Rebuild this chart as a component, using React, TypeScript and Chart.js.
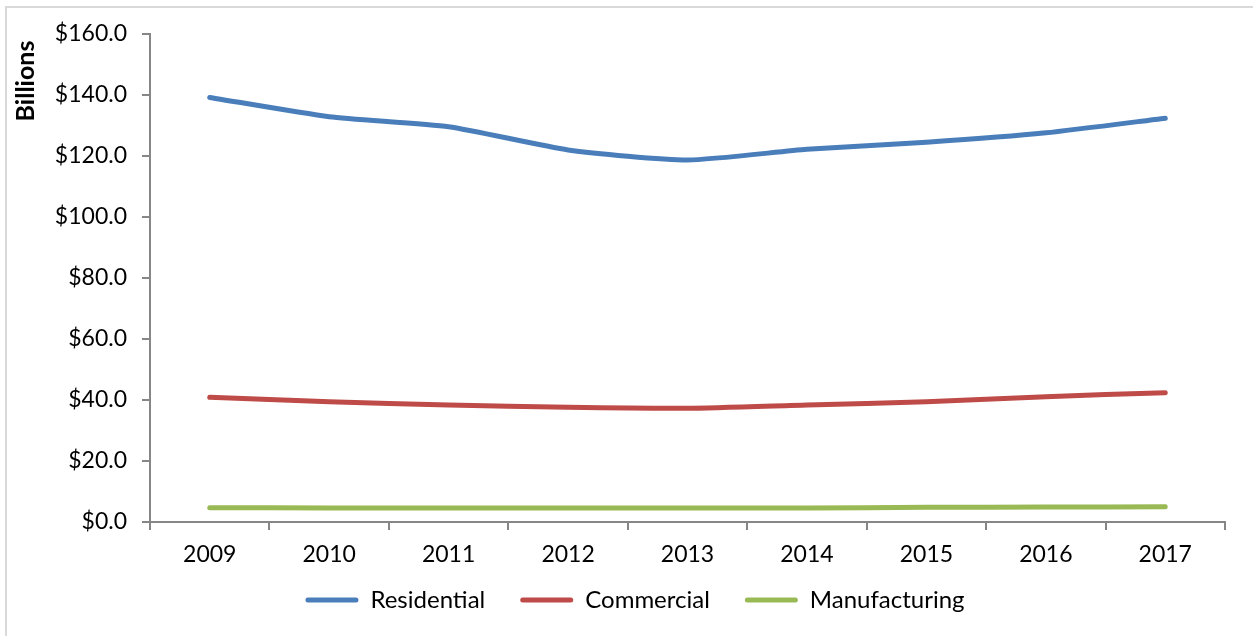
import React, { useEffect, useRef } from "react";
import { Chart, registerables } from "chart.js";

Chart.register(...registerables);

const years = ["2009", "2010", "2011", "2012", "2013", "2014", "2015", "2016", "2017"];
const residential = [139.2, 132.9, 129.6, 122.0, 118.7, 122.2, 124.5, 127.6, 132.4];
const commercial = [40.9, 39.4, 38.4, 37.6, 37.3, 38.4, 39.4, 41.1, 42.4];
const manufacturing = [4.7, 4.6, 4.6, 4.6, 4.6, 4.6, 4.8, 4.9, 5.0];
const seriesNames = ["Residential", "Commercial", "Manufacturing"];
const seriesColors = ["#4A7EBB", "#BE4B48", "#98B954"];
const yMin = 0;
const yMax = 160;
const yStep = 20;
const yTitle = "Billions";

const FONT = "Lato, 'Open Sans', sans-serif";
const AXIS = "#868686";

const titlePlugin = {
  id: "yTitle",
  afterLayout(chart: any) {
    // let the x tick labels extend below the (compressed) axis box
    const x = chart.scales.x;
    if (x) x.bottom = x.top + 60;
  },
  afterDraw(chart: any) {
    const { ctx, chartArea } = chart;
    ctx.save();
    ctx.translate(26, chartArea.top + 47);
    ctx.rotate(-Math.PI / 2);
    ctx.font = `bold 25px ${FONT}`;
    ctx.fillStyle = "#000";
    ctx.textAlign = "center";
    ctx.textBaseline = "middle";
    ctx.fillText(yTitle, 0, 0);
    ctx.restore();
  },
};

export default function App() {
  const ref = useRef<HTMLCanvasElement | null>(null);
  useEffect(() => {
    document.body.style.margin = "0";
    const data = [residential, commercial, manufacturing];
    const chart = new Chart(ref.current as HTMLCanvasElement, {
      type: "line",
      data: {
        labels: years,
        datasets: seriesNames.map((name, i) => ({
          label: name,
          data: data[i],
          borderColor: seriesColors[i],
          backgroundColor: seriesColors[i],
          borderWidth: 5,
          borderCapStyle: "round",
          borderJoinStyle: "round",
          pointRadius: 0,
          tension: 0.2,
          fill: false,
        })),
      },
      options: {
        animation: false,
        responsive: true,
        maintainAspectRatio: false,
        layout: { padding: { left: 45, top: 34, right: 28, bottom: 14 } },
        scales: {
          x: {
            type: "category",
            offset: true,
            afterFit(scale: any) {
              scale.height = 31;
            },
            grid: {
              offset: true,
              drawOnChartArea: false,
              tickLength: 8,
              color: AXIS,
              lineWidth: 2,
            },
            border: { color: AXIS, width: 2 },
            ticks: {
              color: "#000",
              font: { family: FONT, size: 23 },
              padding: 11,
              maxRotation: 0,
            },
          },
          y: {
            min: yMin,
            max: yMax,
            afterFit(scale: any) {
              scale.width = 105;
            },
            grid: {
              drawOnChartArea: false,
              tickLength: 8,
              color: AXIS,
              lineWidth: 2,
            },
            border: { color: AXIS, width: 2 },
            ticks: {
              stepSize: yStep,
              color: "#000",
              font: { family: FONT, size: 23 },
              padding: 15,
              callback: (v: any) => "$" + Number(v).toFixed(1),
            },
          },
        },
        plugins: {
          tooltip: { enabled: false },
          legend: {
            position: "bottom",
            labels: {
              boxWidth: 53,
              boxHeight: 5,
              useBorderRadius: true,
              borderRadius: 2.5,
              color: "#000",
              font: { family: FONT, size: 24 },
              padding: 35,
              generateLabels: (c: any) =>
                (Chart.defaults.plugins.legend.labels as any)
                  .generateLabels(c)
                  .map((l: any) => ({ ...l, lineWidth: 0, fillStyle: l.strokeStyle })),
            },
          },
        },
      },
      plugins: [titlePlugin],
    } as any);
    return () => chart.destroy();
  }, []);

  return (
    <div style={{ position: "absolute", left: 0, top: 0, width: 1253, height: 636, background: "#fff" }}>
      <div
        style={{
          position: "absolute",
          left: 5,
          top: 6,
          right: 0,
          bottom: 0,
          borderLeft: "2px solid #d9d9d9",
          borderTop: "2px solid #d9d9d9",
          pointerEvents: "none",
        }}
      />
      <canvas ref={ref} />
    </div>
  );
}
